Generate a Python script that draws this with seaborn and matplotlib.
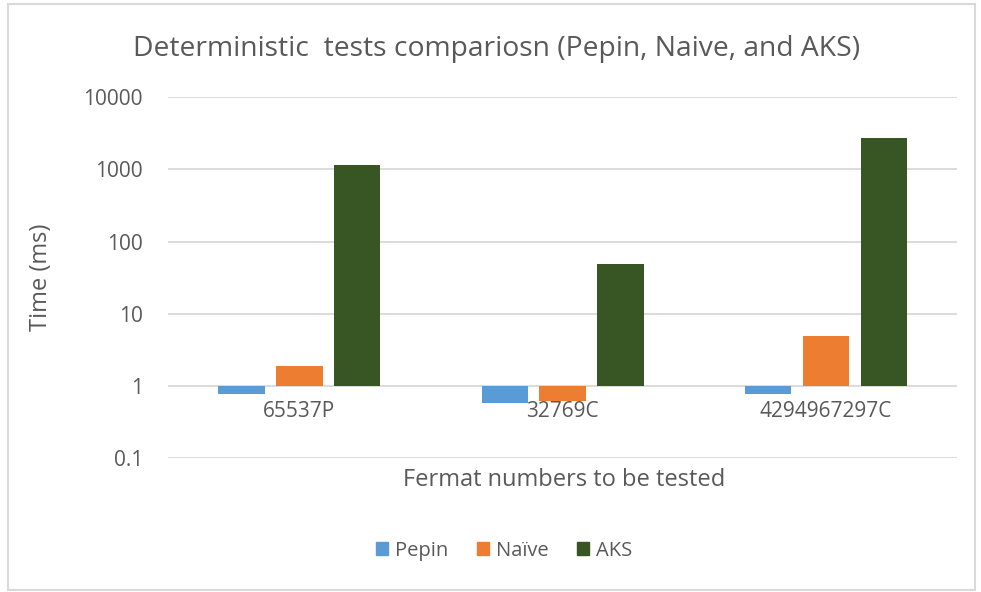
import numpy as np
import pandas as pd
import seaborn as sns
import matplotlib
matplotlib.use("Agg")
import matplotlib.pyplot as plt
from matplotlib.patches import Rectangle

categories = ["65537P", "32769C", "4294967297C"]
pepin = [0.77, 0.58, 0.77]
naive = [1.9, 0.62, 4.9]
aks = [1130, 49, 2750]
series_names = ["Pepin", "Naïve", "AKS"]
colors = ["#5B9BD5", "#ED7D31", "#375623"]
ytick_labels = ["0.1", "1", "10", "100", "1000", "10000"]

sns.set_theme(style="white")
plt.rcParams["font.family"] = ["Open Sans", "DejaVu Sans"]
txt = "#595959"

rows = []
for name, vals in zip(series_names, [pepin, naive, aks]):
    for c, v in zip(categories, vals):
        rows.append({"cat": c, "series": name, "logv": np.log10(v)})
df = pd.DataFrame(rows)

fig = plt.figure(figsize=(9.81, 5.92), dpi=100)
ax = fig.add_axes([0.171, 0.226, 0.805, 0.610])

sns.barplot(data=df, x="cat", y="logv", hue="series", hue_order=series_names,
            palette=colors, width=0.66, gap=0.2, ax=ax, legend=False,
            saturation=1, edgecolor="none", zorder=3)

ax.set_ylim(-1, 4)
ax.set_yticks(range(-1, 5))
ax.set_yticklabels(ytick_labels, color=txt, fontsize=15)
for y in range(-1, 5):
    ax.axhline(y, color="#D9D9D9", lw=1.3, zorder=1)
for s in ax.spines.values():
    s.set_visible(False)
ax.spines["bottom"].set_position(("data", 0))
ax.tick_params(axis="both", length=0)
ax.tick_params(axis="x", pad=11, labelsize=15, labelcolor=txt)
ax.tick_params(axis="y", pad=18)
ax.set_xlabel("")
ax.set_ylabel("Time (ms)", color=txt, fontsize=17, labelpad=22)
ax.set_xlim(-0.5, 2.5)

fig.text(0.506, 0.918, "Deterministic  tests compariosn (Pepin, Naive, and AKS)",
         ha="center", va="center", fontsize=20.3, color=txt)
fig.text(0.575, 0.189, "Fermat numbers to be tested", ha="center", va="center",
         fontsize=17, color=txt)

handles = [Rectangle((0, 0), 1, 1, color=c) for c in colors]
fig.legend(handles, series_names, loc="center", bbox_to_anchor=(0.514, 0.07),
           ncol=3, frameon=False, fontsize=14.5, handlelength=0.6, handleheight=0.6,
           columnspacing=1.4, handletextpad=0.35, labelcolor=txt)

fig.patches.append(Rectangle((0.008, 0.004), 0.986, 0.99, transform=fig.transFigure,
                             fill=False, edgecolor="#D9D9D9", lw=1.5))

fig.savefig("out.png", dpi=100)
